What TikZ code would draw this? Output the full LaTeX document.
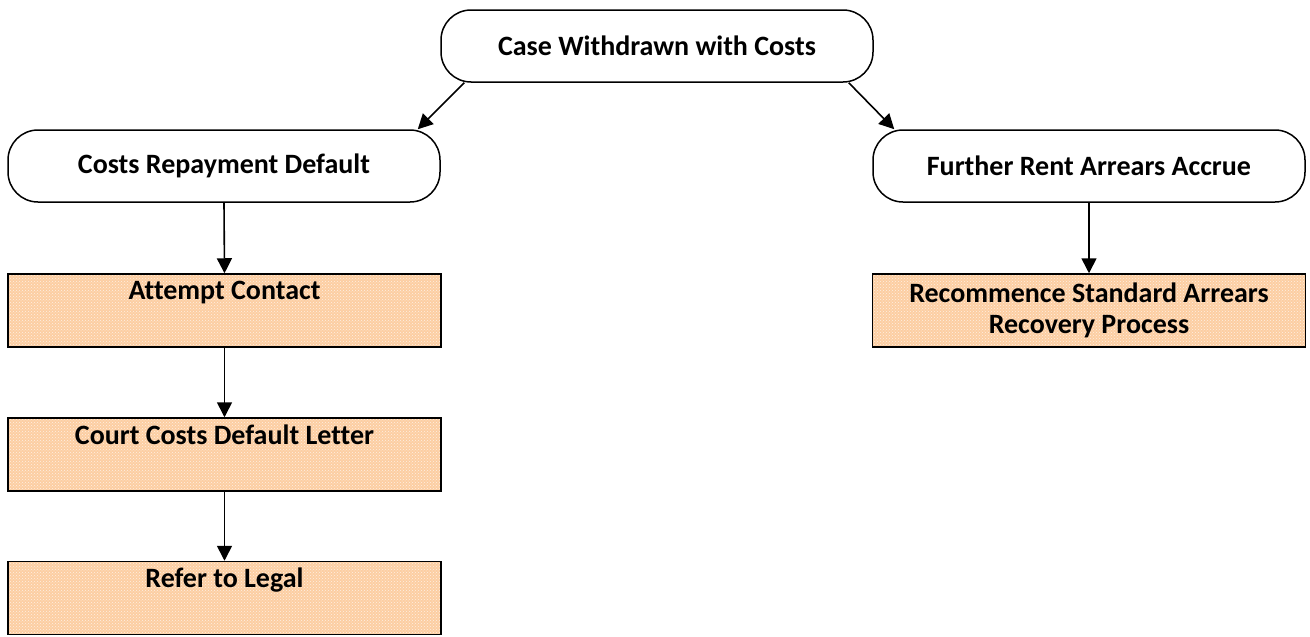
\documentclass[tikz,border=0pt]{standalone}
\usepackage{fontspec}
\setmainfont[Ligatures=NoCommon]{Carlito}
\usetikzlibrary{arrows.meta,patterns,calc}
\definecolor{boxfill}{RGB}{252,206,162}
\tikzset{
  term/.style={draw=black, line width=1.5pt, rounded corners=30pt, fill=white,
    minimum width=432pt, minimum height=72pt, inner sep=0pt,
    font=\fontsize{28}{31}\selectfont\bfseries, align=center},
  procbox/.style={draw=black, line width=1.5pt, preaction={fill=boxfill},
    pattern=crosshatch dots, pattern color=white!70!boxfill,
    minimum width=433pt, minimum height=73pt, inner sep=0pt,
    font=\fontsize{28}{31}\selectfont\bfseries, align=center},
  conn/.style={line width=1.6pt, -{Triangle[length=15pt,width=15pt]}}
}
\begin{document}
\begin{tikzpicture}[x=1pt,y=-1pt]
\useasboundingbox (0,0) rectangle (1310,637);
\node[term] (top) at (657,46) {Case Withdrawn with Costs};
\node[term] (crd) at (224,166) {Costs Repayment Default};
\node[term] (fra) at (1089,166) {Further Rent Arrears Accrue};
\node[procbox] (ac) at (224.5,310.5) {Attempt Contact\\\strut};
\node[procbox] (ccd) at (224.5,454.5) {Court Costs Default Letter\\\strut};
\node[procbox] (rl) at (224.5,598) {Refer to Legal\\\strut};
\node[procbox] (rsa) at (1089,310.5) {Recommence Standard Arrears\\Recovery Process};
\draw[conn] ($(top.south west)+(24,0)$) -- ($(crd.north east)+(-23,0)$);
\draw[conn] ($(top.south east)+(-25,0)$) -- ($(fra.north west)+(22,0)$);
\draw[conn] (crd.south) -- (ac.north);
\draw[conn] (ac.south) -- (ccd.north);
\draw[conn] (ccd.south) -- (rl.north);
\draw[conn] (fra.south) -- (rsa.north);
\end{tikzpicture}
\end{document}
